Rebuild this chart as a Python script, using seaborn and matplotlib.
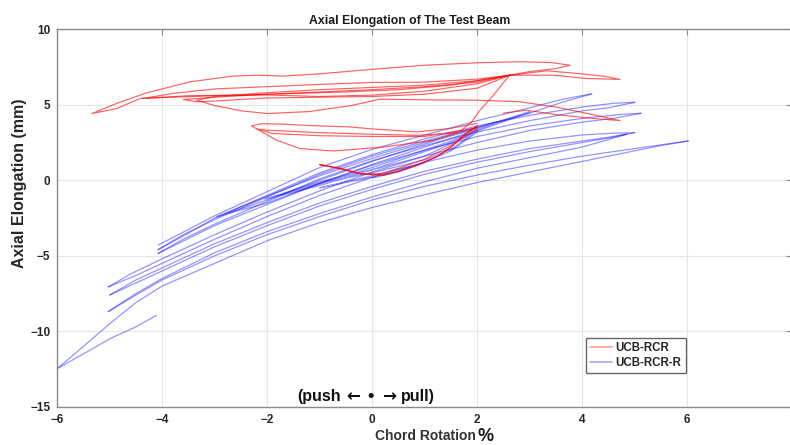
import numpy as np
import pandas as pd
import matplotlib
matplotlib.use("Agg")
import matplotlib.pyplot as plt
from matplotlib.lines import Line2D
import seaborn as sns

# ---------------- data ----------------
series_names = ["UCB-RCR", "UCB-RCR-R"]
x_ticks = [-6, -4, -2, 0, 2, 4, 6, 8]
y_ticks = [-15, -10, -5, 0, 5, 10]

# UCB-RCR-R (blue) branches
b_A_x = [-4.08, -3.5, -3.0, -2.0, -1.0, 0.0, 1.0, 2.0, 3.0, 3.6, 4.18]
b_A_y = [-4.30, -3.25, -2.35, -0.75, 0.85, 2.05, 3.0, 3.95, 4.8, 5.35, 5.72]
b_B_x = [4.18, 3.6, 3.0, 2.0, 1.0, 0.0, -1.0, -2.0, -3.0, -3.6, -4.08]
b_B_y = [5.72, 5.15, 4.45, 3.5, 2.6, 1.6, 0.4, -1.1, -2.6, -3.6, -4.6]
b_C_x = [-4.08, -3.5, -3.0, -2.0, -1.0, 0.0, 1.0, 2.0, 3.0, 4.0, 4.6, 5.0]
b_C_y = [-4.6, -3.5, -2.5, -1.0, 0.5, 1.7, 2.75, 3.6, 4.3, 4.85, 5.1, 5.16]
b_D_x = [5.0, 4.5, 4.0, 3.0, 2.0, 1.0, 0.0, -1.0, -2.0, -3.0, -3.6, -4.08]
b_D_y = [5.16, 4.8, 4.6, 3.95, 3.2, 2.3, 1.3, 0.1, -1.4, -2.9, -3.9, -4.85]
b_E_x = [-4.08, -3.5, -3.0, -2.0, -1.0, 0.0, 1.0, 2.0, 3.0, 4.0, 4.7, 5.12]
b_E_y = [-4.85, -3.85, -3.0, -1.6, -0.2, 1.0, 2.0, 2.9, 3.6, 4.1, 4.35, 4.44]
b_F_x = [5.12, 4.6, 4.0, 3.0, 2.0, 1.0, 0.0, -1.0, -2.0, -3.0, -4.0, -4.6, -5.03]
b_F_y = [4.44, 4.1, 3.85, 3.3, 2.5, 1.6, 0.55, -0.7, -2.1, -3.6, -5.2, -6.2, -7.07]
b_G_x = [-5.03, -4.5, -4.0, -3.0, -2.0, -1.0, 0.0, 1.0, 2.0, 3.0, 4.0, 4.6, 5.0]
b_G_y = [-7.07, -6.3, -5.5, -3.9, -2.4, -1.0, 0.2, 1.2, 2.0, 2.6, 3.0, 3.12, 3.15]
b_H_x = [5.0, 4.5, 4.0, 3.0, 2.0, 1.0, 0.0, -1.0, -2.0, -3.0, -4.0, -4.5, -5.0]
b_H_y = [3.15, 2.85, 2.6, 2.1, 1.4, 0.6, -0.4, -1.5, -2.8, -4.2, -5.8, -6.6, -7.6]
b_I_x = [-5.0, -4.5, -4.0, -3.0, -2.0, -1.0, 0.0, 1.0, 2.0, 3.0, 4.0, 4.5, 4.85]
b_I_y = [-7.6, -6.8, -6.0, -4.4, -3.0, -1.7, -0.6, 0.4, 1.2, 1.9, 2.5, 2.8, 3.05]
b_J_x = [4.85, 4.0, 3.0, 2.0, 1.0, 0.0, -1.0, -2.0, -3.0, -4.0, -4.5, -5.03]
b_J_y = [3.05, 2.2, 1.5, 0.8, -0.1, -1.1, -2.2, -3.4, -4.8, -6.5, -7.5, -8.7]
b_K_x = [-5.03, -4.5, -4.0, -3.0, -2.0, -1.0, 0.0, 1.0, 2.0, 3.0, 4.0, 5.0, 5.6, 6.02]
b_K_y = [-8.7, -7.6, -6.6, -5.0, -3.6, -2.4, -1.3, -0.4, 0.35, 1.0, 1.6, 2.1, 2.4, 2.6]
b_L_x = [6.02, 5.5, 5.0, 4.0, 3.0, 2.0, 1.0, 0.0, -1.0, -2.0, -3.0, -4.0, -4.5, -5.0, -5.5, -6.0]
b_L_y = [2.6, 2.3, 1.95, 1.25, 0.55, -0.15, -0.95, -1.8, -2.8, -4.0, -5.5, -7.0, -8.1, -9.5, -11.0, -12.47]
b_M_x = [-6.0, -5.5, -5.0, -4.5, -4.11]
b_M_y = [-12.47, -11.5, -10.5, -9.7, -8.95]
b_S1_x = [0.0, 0.5, 1.0, 0.5, 0.0, -0.5, -1.0, -0.5, 0.0, 0.5, 1.0]
b_S1_y = [0.15, 0.55, 1.15, 0.75, 0.3, -0.1, -0.5, -0.15, 0.2, 0.6, 1.2]
b_S2_x = [1.0, 1.5, 2.0, 1.5, 1.0, 0.0, -1.0, -1.5, -2.05, -1.5, -1.0, 0.0, 1.0, 1.5,
          2.0, 1.5, 1.0, 0.0, -1.0, -2.0, -1.0, 0.0, 1.0, 2.0]
b_S2_y = [1.2, 1.95, 3.2, 2.5, 1.9, 0.7, -0.35, -0.8, -1.25, -0.7, -0.2, 0.5, 1.35, 2.05,
          3.3, 2.6, 2.0, 0.85, -0.25, -1.2, -0.1, 0.7, 1.6, 3.25]
b_S3_x = [2.0, 2.5, 3.0, 2.5, 2.0, 1.0, 0.0, -1.0, -2.0, -2.96, -2.5, -2.0, -1.0, 0.0,
          1.0, 2.0, 2.5, 3.0, 2.5, 2.0, 1.0, 0.0, -1.0, -2.0, -2.96]
b_S3_y = [3.25, 3.9, 4.55, 4.0, 3.5, 2.4, 1.25, 0.0, -1.3, -2.43, -1.75, -1.05, 0.3, 1.45,
          2.5, 3.4, 3.95, 4.5, 3.9, 3.35, 2.2, 1.05, -0.2, -1.5, -2.4]

# UCB-RCR (red) branches
r_1_x = [-1.0, -0.6, -0.23, 0.2, 0.5, 0.85, 1.25, 1.5, 1.75, 2.0]
r_1_y = [1.05, 0.75, 0.44, 0.33, 0.6, 1.0, 1.6, 2.2, 3.0, 3.6]
r_1b_x = [2.0, 1.5, 1.0, 0.5, 0.2, -0.2, -0.6, -1.0]
r_1b_y = [3.4, 2.3, 1.4, 0.8, 0.45, 0.4, 0.8, 1.0]
r_2_x = [1.99, 1.48, 0.85, 0.0, -0.42, -1.0, -1.69, -2.1, -2.3, -2.1, -1.82, -1.38, -0.74,
         0.21, 1.16, 1.67, 2.0, 1.5, 0.85, 0.0, -1.0, -2.01, -2.2, -1.9, -1.0, 0.0, 1.0, 1.7]
r_2_y = [3.76, 3.43, 3.2, 3.4, 3.53, 3.6, 3.71, 3.75, 3.6, 3.2, 2.65, 2.1, 1.94,
         2.2, 2.65, 3.2, 3.5, 3.1, 2.98, 3.05, 3.15, 3.32, 3.4, 3.1, 2.95, 2.9, 2.9, 3.3]
r_3_x = [1.7, 1.9, 2.05, 2.3, 2.49, 2.62]
r_3_y = [3.3, 3.9, 4.64, 5.6, 6.43, 6.96]
r_U1_x = [2.62, 2.0, 1.0, 0.0, -1.0, -2.0, -3.0, -3.35, -3.0, -2.5, -2.01, -1.2, -0.4, 0.15,
          1.0, 2.0, 2.8, 3.5, 4.2, 4.72, 4.2, 3.5, 2.94, 2.5]
r_U1_y = [6.96, 6.6, 6.3, 6.15, 6.0, 5.8, 5.55, 5.3, 4.95, 4.6, 4.42, 4.55, 4.95, 5.37,
          5.33, 5.3, 5.2, 4.85, 4.35, 3.95, 4.1, 4.35, 4.64, 4.45]
r_U2_x = [2.62, 1.5, 0.5, -0.5, -1.5, -2.5, -3.5, -4.42, -4.87, -5.34, -4.87, -4.3, -3.47,
          -2.65, -2.2, -1.7, -1.0, 0.0, 1.0, 2.0, 2.8, 3.4, 3.77, 3.5, 3.0, 2.62]
r_U2_y = [6.96, 6.3, 6.0, 5.85, 5.75, 5.65, 5.6, 5.42, 4.75, 4.42, 5.09, 5.79, 6.52,
          6.9, 6.96, 6.9, 7.05, 7.35, 7.62, 7.78, 7.85, 7.8, 7.62, 7.4, 7.2, 6.96]
r_U3_x = [2.62, 2.0, 1.0, 0.0, -1.0, -2.0, -3.0, -3.8, -4.37, -3.8, -3.0, -2.0, -1.0, 0.0,
          1.0, 2.0, 2.62, 3.32, 3.77, 4.4, 4.72, 4.08, 3.45, 2.62]
r_U3_y = [6.96, 6.7, 6.5, 6.48, 6.35, 6.2, 6.05, 5.75, 5.42, 5.5, 5.6, 5.65, 5.55, 5.64,
          5.9, 6.4, 6.96, 7.25, 7.12, 6.9, 6.68, 6.74, 6.96, 6.96]
r_U4_x = [2.62, 2.0, 1.0, 0.0, -1.0, -2.0, -3.0, -3.6, -3.35, -3.0, -2.0, -1.0, 0.0, 1.0,
          2.0, 2.62]
r_U4_y = [6.96, 6.5, 6.2, 6.0, 5.85, 5.7, 5.5, 5.35, 5.2, 5.25, 5.45, 5.5, 5.55, 5.7,
          6.1, 6.96]

blue_paths = [(b_A_x, b_A_y), (b_B_x, b_B_y), (b_C_x, b_C_y), (b_D_x, b_D_y),
              (b_E_x, b_E_y), (b_F_x, b_F_y), (b_G_x, b_G_y), (b_H_x, b_H_y),
              (b_I_x, b_I_y), (b_J_x, b_J_y), (b_K_x, b_K_y), (b_L_x, b_L_y),
              (b_M_x, b_M_y), (b_S1_x, b_S1_y), (b_S2_x, b_S2_y), (b_S3_x, b_S3_y)]
red_paths = [(r_1_x, r_1_y), (r_1b_x, r_1b_y), (r_1_x, r_1_y), (r_2_x, r_2_y),
             (r_3_x, r_3_y), (r_U1_x, r_U1_y), (r_U2_x, r_U2_y), (r_U3_x, r_U3_y),
             (r_U4_x, r_U4_y)]


def build(paths, name):
    frames = []
    for i, (xs, ys) in enumerate(paths):
        frames.append(pd.DataFrame({"x": xs, "y": ys, "seg": f"{name}_{i}",
                                    "series": name}))
    return pd.concat(frames, ignore_index=True)


df_blue = build(blue_paths, series_names[1])
df_red = build(red_paths, series_names[0])

# ---------------- figure ----------------
sns.set_style("white")
plt.rcParams["font.family"] = ["Liberation Sans", "DejaVu Sans"]
plt.rcParams["font.weight"] = "bold"

fig = plt.figure(figsize=(7.9, 4.45), dpi=100)
ax = fig.add_axes([57.3 / 790, 1 - 406.7 / 445, 735 / 790, 377.4 / 445])

sns.lineplot(data=df_blue, x="x", y="y", units="seg", estimator=None, sort=False,
             color="blue", alpha=0.42, lw=0.9, ax=ax, legend=False)
sns.lineplot(data=df_red, x="x", y="y", units="seg", estimator=None, sort=False,
             color="red", alpha=0.62, lw=0.85, ax=ax, legend=False)

ax.set_xlim(-6, 8)
ax.set_ylim(-15, 10)
ax.set_xticks(x_ticks)
ax.set_yticks(y_ticks)
ax.set_xticklabels(["\u2212" + str(-t) if t < 0 else str(t) for t in x_ticks[:-1]] + [""])
ax.set_yticklabels(["\u2212" + str(-t) if t < 0 else str(t) for t in y_ticks])
ax.grid(True, color="#e6e6e6", lw=0.8)
ax.set_axisbelow(True)
for s in ax.spines.values():
    s.set_color("#8a8a8a")
    s.set_linewidth(1.0)
ax.tick_params(direction="in", top=True, right=True, length=4, color="#8a8a8a",
               labelsize=8.5, labelcolor="#262626", pad=5)
for lab in ax.get_xticklabels() + ax.get_yticklabels():
    lab.set_fontweight("bold")

ax.set_xlabel("")
ax.set_ylabel("")
ax.set_title("Axial Elongation of The Test Beam", fontsize=8.8, fontweight="bold",
             color="#1a1a1a", x=0.48, pad=4)

fig.text(375 / 790, 1 - 440 / 445, "Chord Rotation", fontsize=10, fontweight="bold",
         color="#333333", ha="left", va="baseline")
fig.text(478 / 790, 1 - 441 / 445, "%", fontsize=13, fontweight="bold",
         color="#1a1a1a", ha="left", va="baseline")
fig.text(20 / 790, 1 - 183 / 445, "Axial Elongation (mm)", fontsize=11.5,
         fontweight="bold", color="#262626", rotation=90, ha="center", va="center")

# "(push <- . -> pull)" annotation, assembled piecewise
base_y = 1 - 401 / 445
fig.text(297 / 790, base_y, "(push", fontsize=11.5, fontweight="bold", color="#111111",
         ha="left", va="baseline", family="Liberation Sans")
fig.text(346 / 790, base_y, "\u2190", fontsize=12, fontweight="bold", color="#111111",
         ha="left", va="baseline", family="DejaVu Sans")
fig.text(367 / 790, base_y, "\u2022", fontsize=13, fontweight="bold", color="#111111",
         ha="left", va="baseline", family="Liberation Sans")
fig.text(382 / 790, base_y, "\u2192", fontsize=12, fontweight="bold", color="#111111",
         ha="left", va="baseline", family="DejaVu Sans")
fig.text(401 / 790, base_y, "pull)", fontsize=11.5, fontweight="bold", color="#111111",
         ha="left", va="baseline", family="Liberation Sans")

handles = [Line2D([], [], color="red", alpha=0.4, lw=1.2),
           Line2D([], [], color="blue", alpha=0.35, lw=1.2)]
leg = ax.legend(handles, series_names, loc="lower left",
                bbox_to_anchor=(0.719, 0.0885), fancybox=False, framealpha=1,
                edgecolor="#666666", prop={"weight": "bold", "size": 8.3},
                handlelength=1.9, handletextpad=0.3, borderpad=0.4,
                labelspacing=0.2, borderaxespad=0)
leg.get_frame().set_linewidth(1.0)

fig.savefig("out.png", dpi=100)
